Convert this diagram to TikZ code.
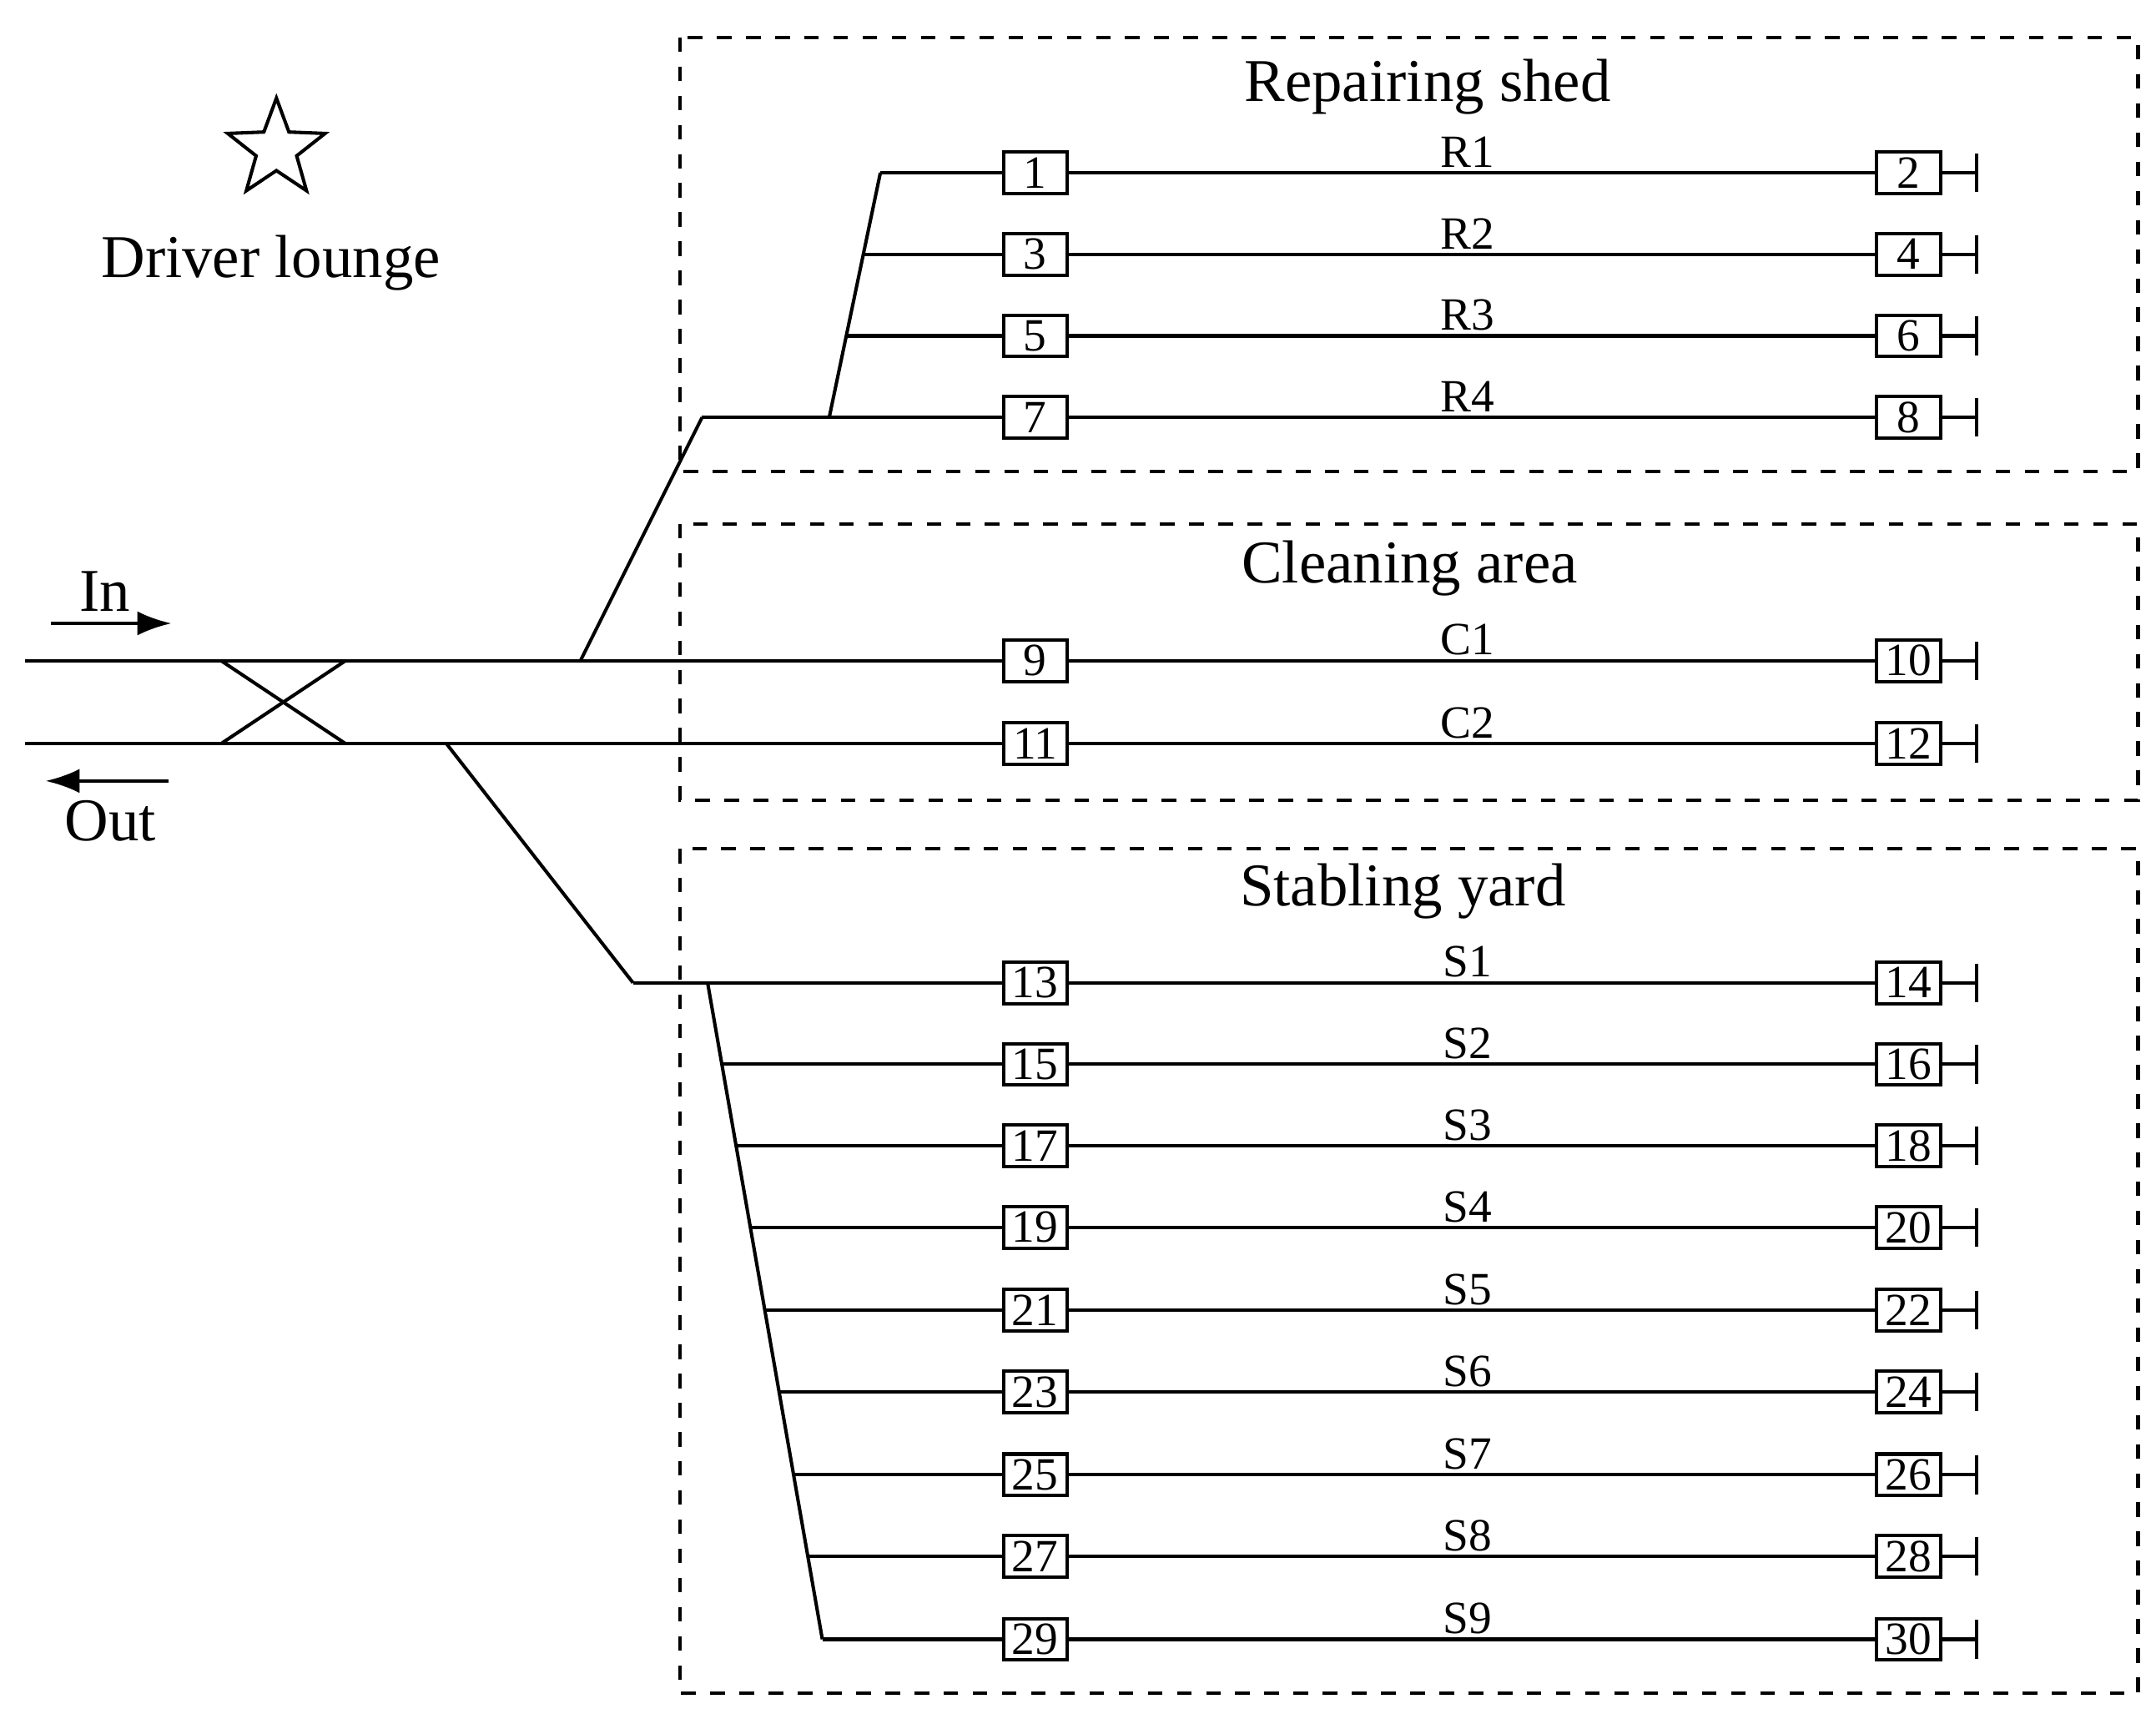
\documentclass[tikz,border=0pt]{standalone}
\usepackage{fontspec}
\setmainfont{Liberation Serif}
\usetikzlibrary{shapes.geometric,arrows.meta}
\begin{document}
\begin{tikzpicture}[x=0.01cm,y=-0.01cm,
  trk/.style={line width=0.7pt},
  zone/.style={dashed,line width=0.7pt},
  bx/.style={draw,line width=0.7pt,minimum width=0.46cm,minimum height=0.3cm,inner sep=0pt,font=\fontsize{9.5}{9.5}\selectfont,fill=white},
  lab/.style={font=\fontsize{9.5}{9.5}\selectfont},
  ttl/.style={font=\fontsize{12.5}{12.5}\selectfont}]
\useasboundingbox (0,0) rectangle (1560,1240);
% zones
\draw[zone] (492,27) rectangle (1547,341);
\draw[zone] (492,379) rectangle (1547,579);
\draw[zone] (492,614) rectangle (1547,1225);
\node[ttl] (tR) at (1033,63) {Repairing shed};
\node[ttl] (tC) at (1020,411) {Cleaning area};
\node[ttl] (tS) at (1015,645) {Stabling yard};
% star and lounge
\node[star,star points=5,star point ratio=2.4,draw,line width=0.7pt,minimum size=0.74cm,inner sep=0pt] (star) at (200,108) {};
\node[ttl] (dl) at (196,190) {Driver lounge};
% In / Out
\node[ttl] (in) at (76,428) {In};
\coordinate (ia) at (37,451); \coordinate (ib) at (124,451);
\draw[line width=0.7pt,-{Latex[length=7pt,width=5pt]}] (ia) -- (ib);
\node[ttl] (out) at (80,594) {Out};
\coordinate (oa) at (122,565); \coordinate (ob) at (33,565);
\draw[line width=0.7pt,-{Latex[length=7pt,width=5pt]}] (oa) -- (ob);
% tracks
\newcommand{\trackrow}[5]{% y, leftnum, rightnum, label, startx
  \node[bx] (b#2) at (749,#1) {#2};
  \node[bx] (b#3) at (1381,#1) {#3};
  \coordinate (s#2) at (#5,#1);
  \coordinate (e#3) at (1430,#1);
  \coordinate (et#3) at (1430,#1-14);
  \coordinate (eb#3) at (1430,#1+14);
  \draw[trk] (s#2) -- (b#2) -- (b#3) -- (e#3);
  \draw[trk] (et#3) -- (eb#3);
  \node[lab] (l#2) at (1062,#1-15) {#4};}
% repair
\trackrow{125}{1}{2}{R1}{637}
\trackrow{184}{3}{4}{R2}{625}
\trackrow{243}{5}{6}{R3}{612}
\trackrow{302}{7}{8}{R4}{508}
\coordinate (rl) at (600,302);
\draw[trk] (rl) -- (s1);
\coordinate (rj) at (420,478);
\draw[trk] (rj) -- (s7);
% cleaning
\trackrow{478}{9}{10}{C1}{18}
\trackrow{538}{11}{12}{C2}{18}
\coordinate (xa) at (160,478); \coordinate (xb) at (250,538);
\coordinate (xc) at (160,538); \coordinate (xd) at (250,478);
\draw[trk] (xa) -- (xb); \draw[trk] (xc) -- (xd);
% stabling
\trackrow{711}{13}{14}{S1}{458}
\trackrow{770}{15}{16}{S2}{522.4}
\trackrow{829}{17}{18}{S3}{532.7}
\trackrow{888}{19}{20}{S4}{543.0}
\trackrow{948}{21}{22}{S5}{553.5}
\trackrow{1007}{23}{24}{S6}{563.8}
\trackrow{1067}{25}{26}{S7}{574.3}
\trackrow{1126}{27}{28}{S8}{584.6}
\trackrow{1186}{29}{30}{S9}{595}
\coordinate (sj) at (323,538);
\draw[trk] (sj) -- (s13);
\coordinate (sl) at (512,711);
\draw[trk] (sl) -- (s29);
\end{tikzpicture}
\end{document}
